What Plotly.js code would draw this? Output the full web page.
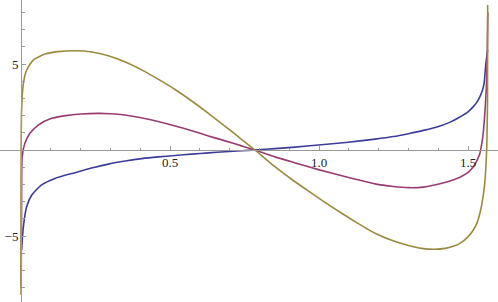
<!DOCTYPE html>
<html>
<head>
<meta charset="utf-8">
<script src="https://cdn.plot.ly/plotly-3.0.1.min.js"></script>
<style>html,body{margin:0;padding:0;background:#fff;}#chart{width:498px;height:302px;}</style>
</head>
<body>
<div id="chart"></div>
<script>
// Values
const blueX = [0.002, 0.008, 0.019, 0.036, 0.069, 0.114, 0.181, 0.237, 0.293, 0.350, 0.405, 0.460, 0.517, 0.573, 0.629, 0.685, 0.740, 0.785, 0.852, 0.920, 0.998, 1.090, 1.188, 1.250, 1.300, 1.350, 1.406, 1.440, 1.473, 1.500, 1.518, 1.530, 1.540, 1.548, 1.554, 1.560, 1.566];
const blueY = [-5.8, -4.46, -3.3, -2.62, -2.03, -1.65, -1.32, -1.05, -0.82, -0.64, -0.50, -0.40, -0.32, -0.24, -0.17, -0.10, -0.04, 0.0, 0.08, 0.17, 0.29, 0.44, 0.63, 0.78, 0.95, 1.14, 1.40, 1.62, 1.92, 2.22, 2.52, 2.78, 3.10, 3.45, 3.87, 5.04, 5.8];

const purpleX = [0.0005, 0.002, 0.004, 0.013, 0.030, 0.058, 0.103, 0.150, 0.200, 0.259, 0.300, 0.349, 0.395, 0.439, 0.480, 0.517, 0.573, 0.629, 0.685, 0.740, 0.785, 0.852, 0.920, 0.998, 1.090, 1.188, 1.250, 1.300, 1.350, 1.406, 1.440, 1.473, 1.500, 1.518, 1.530, 1.540, 1.546, 1.551, 1.558, 1.563, 1.5665];
const purpleY = [-8.0, -3.0, -0.39, 0.39, 0.97, 1.45, 1.84, 2.00, 2.09, 2.13, 2.11, 2.03, 1.90, 1.74, 1.57, 1.40, 1.12, 0.82, 0.53, 0.24, 0.0, -0.40, -0.75, -1.14, -1.56, -1.97, -2.12, -2.19, -2.16, -1.96, -1.80, -1.58, -1.30, -0.97, -0.62, -0.19, 0.35, 0.97, 2.52, 4.26, 8.0];

const yellowX = [0.0003, 0.002, 0.008, 0.019, 0.041, 0.081, 0.125, 0.181, 0.237, 0.293, 0.350, 0.405, 0.460, 0.517, 0.573, 0.629, 0.685, 0.740, 0.785, 0.852, 0.908, 0.964, 1.020, 1.076, 1.132, 1.188, 1.244, 1.300, 1.345, 1.389, 1.423, 1.450, 1.473, 1.500, 1.518, 1.530, 1.540, 1.548, 1.555, 1.560, 1.563, 1.5655, 1.566];
const yellowY = [-8.43, 2.33, 3.88, 4.65, 5.23, 5.58, 5.72, 5.77, 5.70, 5.48, 5.12, 4.66, 4.12, 3.52, 2.85, 2.13, 1.38, 0.62, 0.0, -0.97, -1.70, -2.38, -3.05, -3.68, -4.28, -4.84, -5.25, -5.55, -5.72, -5.77, -5.72, -5.60, -5.43, -5.05, -4.65, -4.25, -3.68, -3.00, -2.13, -1.00, 0.19, 2.9, 8.43];

const xTickVals = [0.5, 1.0, 1.5];
const xTickText = ['0.5', '1.0', '1.5'];
const xMinorVals = [0.1, 0.2, 0.3, 0.4, 0.6, 0.7, 0.8, 0.9, 1.1, 1.2, 1.3, 1.4, 1.6];
const yTickVals = [-5, 5];
const yTickText = ['\u22125', '5'];
const yMinorVals = [-8, -7, -6, -4, -3, -2, -1, 1, 2, 3, 4, 6, 7, 8];

const colors = ['#3d3d99', '#993d71', '#998b3d'];

const lineStyle = (c) => ({color: c, width: 1.6, shape: 'spline', smoothing: 0.6});
const traces = [
  {x: blueX, y: blueY, mode: 'lines', line: lineStyle(colors[0])},
  {x: purpleX, y: purpleY, mode: 'lines', line: lineStyle(colors[1])},
  {x: yellowX, y: yellowY, mode: 'lines', line: lineStyle(colors[2])}
];

const axisColor = '#999999';
const tickFont = {family: 'Liberation Serif, Times New Roman, serif', size: 13, color: '#222'};

const layout = {
  width: 498, height: 302,
  margin: {l: 0, r: 0, t: 0, b: 0, pad: 0},
  paper_bgcolor: '#fff', plot_bgcolor: '#fff',
  showlegend: false,
  xaxis: {
    range: [-21/298, 477/298],
    showgrid: false, zeroline: false,
    showline: true, linecolor: axisColor, linewidth: 1,
    anchor: 'free', position: 152/302,
    ticks: 'inside', ticklen: 4, tickcolor: axisColor, tickwidth: 1,
    tickmode: 'array', tickvals: xTickVals, ticktext: xTickText,
    tickfont: tickFont,
    minor: {ticks: 'inside', ticklen: 2.5, tickcolor: axisColor, tickmode: 'array', tickvals: xMinorVals}
  },
  yaxis: {
    range: [-152/17.2, 150/17.2],
    showgrid: false, zeroline: false,
    showline: true, linecolor: axisColor, linewidth: 1,
    anchor: 'free', position: 21/498,
    ticks: 'inside', ticklen: 4, tickcolor: axisColor, tickwidth: 1,
    tickmode: 'array', tickvals: yTickVals, ticktext: yTickText,
    tickfont: tickFont,
    minor: {ticks: 'inside', ticklen: 2.5, tickcolor: axisColor, tickmode: 'array', tickvals: yMinorVals}
  }
};

Plotly.newPlot('chart', traces, layout, {staticPlot: true, displayModeBar: false});
</script>
</body>
</html>
